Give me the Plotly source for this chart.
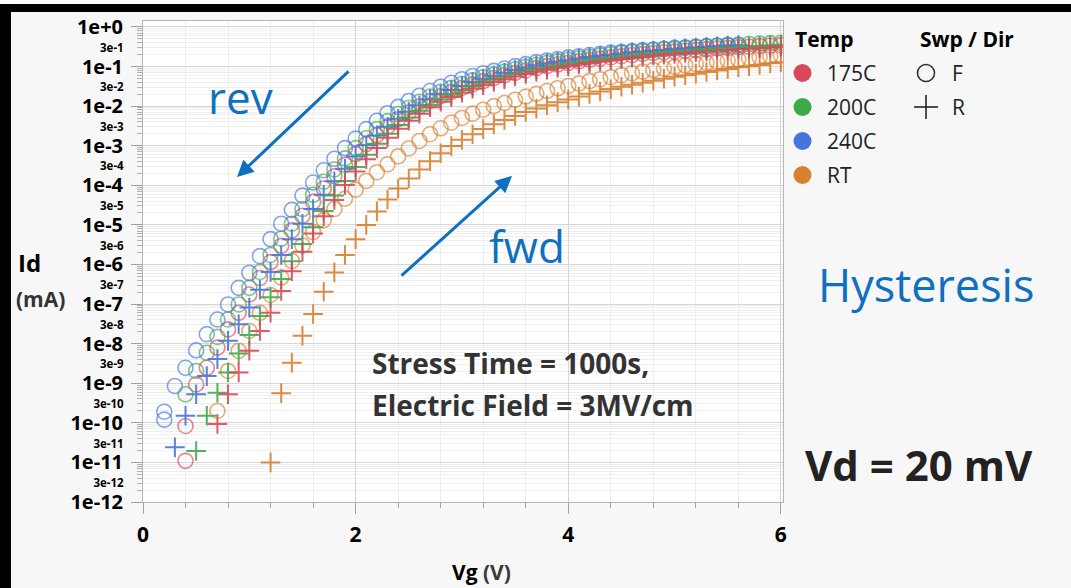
import plotly.graph_objects as go

# ---------------- data (log10 of Id in mA) ----------------
VG = [0.2, 0.3, 0.4, 0.5, 0.6, 0.7, 0.8, 0.9, 1.0, 1.1, 1.2, 1.3, 1.4, 1.5, 1.6, 1.7, 1.8, 1.9,
      2.0, 2.1, 2.2, 2.3, 2.4, 2.5, 2.6, 2.7, 2.8, 2.9, 3.0, 3.1, 3.2, 3.3, 3.4, 3.5, 3.6, 3.7,
      3.8, 3.9, 4.0, 4.1, 4.2, 4.3, 4.4, 4.5, 4.6, 4.7, 4.8, 4.9, 5.0, 5.1, 5.2, 5.3, 5.4, 5.5,
      5.6, 5.7, 5.8, 5.9, 6.0]

LOG_240C_F = [-9.72, -9.07, -8.61, -8.17, -7.76, -7.39, -7.01, -6.59, -6.21, -5.79, -5.36, -4.97,
              -4.62, -4.26, -3.93, -3.62, -3.33, -3.06, -2.82, -2.58, -2.37, -2.18, -2.02, -1.87,
              -1.74, -1.62, -1.51, -1.41, -1.32, -1.24, -1.17, -1.11, -1.05, -0.99, -0.94, -0.89,
              -0.85, -0.81, -0.77, -0.74, -0.71, -0.68, -0.65, -0.63, -0.61, -0.59, -0.57, -0.55,
              -0.53, -0.52, -0.50, -0.49, -0.47, -0.46, -0.45]
LOG_240C_R = [None, -10.62, -9.82, -9.28, -8.82, -8.39, -7.93, -7.51, -7.09, -6.64, -6.19, -5.76,
              -5.36, -4.97, -4.60, -4.24, -3.90, -3.58, -3.27, -2.99, -2.74, -2.52, -2.32, -2.14,
              -1.98, -1.83, -1.70, -1.59, -1.49, -1.39, -1.31, -1.23, -1.16, -1.09, -1.03, -0.97,
              -0.92, -0.88, -0.84, -0.80, -0.76, -0.73, -0.70, -0.67, -0.64, -0.62, -0.60, -0.58,
              -0.56, -0.54, -0.52, -0.50, -0.49, -0.47, -0.46]
LOG_200C_F = [None, None, -9.28, -8.69, -8.23, -7.83, -7.39, -7.01, -6.59, -6.19, -5.76, -5.35,
              -4.97, -4.60, -4.24, -3.91, -3.60, -3.32, -3.06, -2.81, -2.58, -2.38, -2.20, -2.04,
              -1.89, -1.76, -1.64, -1.54, -1.44, -1.35, -1.27, -1.20, -1.13, -1.07, -1.01, -0.96,
              -0.91, -0.87, -0.83, -0.79, -0.76, -0.72, -0.69, -0.66, -0.64, -0.61, -0.59, -0.57,
              -0.55, -0.53, -0.51, -0.49, -0.48, -0.46, -0.45, -0.43, -0.42, -0.41, -0.40]
LOG_200C_R = [None, None, None, -10.71, -9.82, -9.24, -8.73, -8.25, -7.78, -7.30, -6.83, -6.37,
              -5.92, -5.48, -5.06, -4.65, -4.26, -3.89, -3.54, -3.23, -2.95, -2.70, -2.48, -2.29,
              -2.12, -1.97, -1.83, -1.71, -1.60, -1.50, -1.41, -1.33, -1.26, -1.19, -1.13, -1.07,
              -1.02, -0.97, -0.93, -0.89, -0.85, -0.81, -0.78, -0.75, -0.72, -0.69, -0.67, -0.64,
              -0.62, -0.60, -0.58, -0.56, -0.54, -0.52, -0.51, -0.49, -0.48, -0.46, -0.45]
LOG_175C_F = [None, None, -10.08, -9.03, -8.61, -8.10, -7.64, -7.22, -6.76, -6.34, -5.94, -5.53,
              -5.14, -4.77, -4.42, -4.08, -3.77, -3.48, -3.21, -2.96, -2.73, -2.52, -2.33, -2.16,
              -2.01, -1.87, -1.75, -1.64, -1.54, -1.45, -1.37, -1.29, -1.22, -1.16, -1.10, -1.04,
              -0.99, -0.95, -0.91, -0.87, -0.83, -0.80, -0.77, -0.74, -0.71, -0.68, -0.66, -0.64,
              -0.62, -0.60, -0.58, -0.56, -0.54, -0.53, -0.51, -0.50, -0.48, -0.47, -0.46]
LOG_175C_R = [None, None, None, None, None, -10.03, -9.28, -8.73, -8.18, -7.68, -7.22, -6.67,
              -6.17, -5.68, -5.22, -4.78, -4.37, -3.99, -3.65, -3.34, -3.06, -2.80, -2.57, -2.37,
              -2.19, -2.03, -1.89, -1.77, -1.66, -1.56, -1.47, -1.39, -1.32, -1.25, -1.19, -1.13,
              -1.08, -1.03, -0.99, -0.95, -0.91, -0.87, -0.84, -0.81, -0.78, -0.75, -0.72, -0.70,
              -0.68, -0.66, -0.64, -0.62, -0.60, -0.58, -0.56, -0.55, -0.53, -0.52, -0.50]
LOG_RT_F = [None, None, None, None, None, -9.70, -8.69, -8.18, -7.68, -7.22, -6.77, -6.33,
            -5.91, -5.52, -5.18, -4.88, -4.60, -4.34, -4.11, -3.89, -3.67, -3.47, -3.27, -3.07,
            -2.88, -2.71, -2.56, -2.42, -2.30, -2.19, -2.09, -2.00, -1.92, -1.84, -1.76, -1.69,
            -1.62, -1.55, -1.49, -1.43, -1.37, -1.32, -1.27, -1.22, -1.17, -1.13, -1.09, -1.05,
            -1.01, -0.97, -0.94, -0.91, -0.88, -0.85, -0.82, -0.79, -0.76, -0.74, -0.71]
LOG_RT_R = [None, None, None, None, None, None, None, None, None, None, -11.00, -9.25,
            -8.48, -7.80, -7.25, -6.69, -6.20, -5.76, -5.36, -5.00, -4.66, -4.36, -4.08, -3.83,
            -3.60, -3.39, -3.19, -3.01, -2.85, -2.71, -2.58, -2.46, -2.35, -2.25, -2.15, -2.06,
            -1.98, -1.90, -1.83, -1.76, -1.69, -1.63, -1.57, -1.51, -1.46, -1.41, -1.36, -1.31,
            -1.26, -1.22, -1.18, -1.14, -1.10, -1.06, -1.02, -0.99, -0.96, -0.92, -0.89]

# repeated low-Vg readings (second point at same Vg)
EXTRA_240C_F_VG = [0.2]
EXTRA_240C_F_LOG = [-9.92]
EXTRA_175C_F_VG = [0.4]
EXTRA_175C_F_LOG = [-10.96]

TEMPS = ["175C", "200C", "240C", "RT"]
COLORS = {"175C": "#d8485a", "200C": "#3bab47", "240C": "#4574dd", "RT": "#d8802e"}

Y_MAJOR = [10.0 ** e for e in range(-12, 1)]
Y_MAJOR_TEXT = ["1e-12", "1e-11", "1e-10", "1e-9", "1e-8", "1e-7", "1e-6", "1e-5", "1e-4",
                "1e-3", "1e-2", "1e-1", "1e+0"]
Y_THREE = [3 * 10.0 ** e for e in range(-12, 0)]
Y_THREE_TEXT = ["3e-12", "3e-11", "3e-10", "3e-9", "3e-8", "3e-7", "3e-6", "3e-5", "3e-4",
                "3e-3", "3e-2", "3e-1"]
X_TICKS = [0, 2, 4, 6]
X_MINOR = [0.4, 0.8, 1.2, 1.6, 2.4, 2.8, 3.2, 3.6, 4.4, 4.8, 5.2, 5.6]


def to_id(vals):
    vals = list(vals) + [None] * (len(VG) - len(vals))
    return [None if v is None else 10.0 ** v for v in vals]


FONT = "Open Sans"
fig = go.Figure()


def add_series(temp, logs, swp, xs=None):
    col = COLORS[temp]
    if swp == "F":
        marker = dict(symbol="circle-open", size=15, color=col, opacity=0.65,
                      line=dict(width=1.6, color=col))
    else:
        marker = dict(symbol="cross-thin-open", size=14, color=col, opacity=0.9,
                      line=dict(width=2, color=col))
    fig.add_trace(go.Scatter(
        x=VG if xs is None else xs,
        y=to_id(logs) if xs is None else [10.0 ** v for v in logs],
        mode="markers", marker=marker, showlegend=False, cliponaxis=True,
        name=f"{temp} {swp}"))


add_series("RT", LOG_RT_F, "F")
add_series("RT", LOG_RT_R, "R")
add_series("175C", LOG_175C_F, "F")
add_series("175C", EXTRA_175C_F_LOG, "F", xs=EXTRA_175C_F_VG)
add_series("200C", LOG_200C_F, "F")
add_series("240C", LOG_240C_F, "F")
add_series("240C", EXTRA_240C_F_LOG, "F", xs=EXTRA_240C_F_VG)
add_series("240C", LOG_240C_R, "R")
add_series("200C", LOG_200C_R, "R")
add_series("175C", LOG_175C_R, "R")

# dummy trace on yaxis2 so the secondary label axis is drawn
fig.add_trace(go.Scatter(x=[None], y=[None], yaxis="y2", showlegend=False, hoverinfo="skip"))

# ---------------- layout helpers (pixel -> paper) ----------------
L, R, T, B = 143, 783, 21, 502
W, H = 1071, 588


def PX(x):
    return (x - L) / (R - L)


def PY(y):
    return (B - y) / (B - T)


y_minor = [k * 10.0 ** e for e in range(-12, 0) for k in range(2, 10)]

fig.update_layout(
    width=W, height=H,
    margin=dict(l=L, r=W - R, t=T, b=H - B, pad=0),
    paper_bgcolor="#f7f7f7", plot_bgcolor="#ffffff",
    font=dict(family=FONT, color="#000"),
    xaxis=dict(range=[0, 6.02], tickvals=X_TICKS, ticktext=[str(v) for v in X_TICKS],
               ticks="outside", ticklen=11, tickcolor="#a0a0a0", tickwidth=1,
               showline=True, linecolor="#b4b4b4", linewidth=1, mirror=True,
               showgrid=True, gridcolor="#d6d6d6", gridwidth=1, zeroline=False,
               tickfont=dict(family=FONT, size=21, color="#000", weight=700),
               ticklabelstandoff=3,
               minor=dict(tickvals=X_MINOR, ticks="outside", ticklen=5, tickcolor="#a0a0a0",
                          showgrid=True, gridcolor="#ededed", gridwidth=1)),
    yaxis=dict(type="log", range=[-12, 0.15], tickvals=Y_MAJOR, ticktext=Y_MAJOR_TEXT,
               ticks="outside", ticklen=11, tickcolor="#a0a0a0", tickwidth=1,
               showline=True, linecolor="#b4b4b4", linewidth=1, mirror=True,
               showgrid=True, gridcolor="#d6d6d6", gridwidth=1, zeroline=False,
               tickfont=dict(family=FONT, size=20, color="#000", weight=700),
               ticklabelstandoff=4,
               minor=dict(tickvals=y_minor, ticks="outside", ticklen=5, tickcolor="#b0b0b0",
                          showgrid=True, gridcolor="#efefef", gridwidth=1)),
    yaxis2=dict(type="log", range=[-12, 0.15], overlaying="y", side="left", anchor="x",
                tickvals=Y_THREE, ticktext=Y_THREE_TEXT, ticks="outside", ticklen=11,
                tickcolor="rgba(0,0,0,0)", showgrid=False, showline=False, zeroline=False,
                tickfont=dict(family=FONT, size=11.5, color="#000", weight=700),
                ticklabelstandoff=5),
)

shapes = []
# black frame (top and left) with thin white strip above
shapes.append(dict(type="rect", xref="paper", yref="paper", x0=PX(0), x1=PX(W), y0=PY(4), y1=PY(0),
                   fillcolor="#ffffff", line=dict(width=0), layer="above"))
shapes.append(dict(type="rect", xref="paper", yref="paper", x0=PX(0), x1=PX(W), y0=PY(12), y1=PY(4),
                   fillcolor="#000000", line=dict(width=0), layer="above"))
shapes.append(dict(type="rect", xref="paper", yref="paper", x0=PX(0), x1=PX(11), y0=PY(H), y1=PY(4),
                   fillcolor="#000000", line=dict(width=0), layer="above"))

annos = []


def text(x, y, s, size, color="#000", bold=False, xanchor="center", yanchor="middle"):
    annos.append(dict(x=PX(x), y=PY(y), xref="paper", yref="paper", text=s, showarrow=False,
                      xanchor=xanchor, yanchor=yanchor,
                      font=dict(family=FONT, size=size, color=color, weight=700 if bold else 400)))


# legend
text(793, 39, "Temp", 21, "#000", True, xanchor="left")
text(918, 39, "Swp / Dir", 21, "#000", True, xanchor="left")
legend_rows = [73, 107, 141, 175]
for temp, yy in zip(TEMPS, legend_rows):
    shapes.append(dict(type="circle", xref="paper", yref="paper",
                       x0=PX(793.5), x1=PX(811.5), y0=PY(yy + 9), y1=PY(yy - 9),
                       fillcolor=COLORS[temp], line=dict(width=0), layer="above"))
    text(825, yy, temp, 21, "#222", False, xanchor="left")
shapes.append(dict(type="circle", xref="paper", yref="paper",
                   x0=PX(917.5), x1=PX(934.5), y0=PY(73 + 8.5), y1=PY(73 - 8.5),
                   line=dict(width=1.6, color="#333"), layer="above"))
shapes.append(dict(type="line", xref="paper", yref="paper", x0=PX(914), x1=PX(938),
                   y0=PY(107), y1=PY(107), line=dict(width=1.6, color="#222"), layer="above"))
shapes.append(dict(type="line", xref="paper", yref="paper", x0=PX(926), x1=PX(926),
                   y0=PY(95), y1=PY(119), line=dict(width=1.6, color="#222"), layer="above"))
text(950, 73, "F", 21, "#222", False, xanchor="left")
text(950, 107, "R", 21, "#222", False, xanchor="left")

# axis titles
text(16, 262, "Id", 24, "#000", True, xanchor="left")
text(14, 299, "(mA)", 21, "#333", True, xanchor="left")
text(481, 572, "Vg <span style='color:#3a3a3a'>(V)</span>", 21, "#000", True)

# notes
BLUE = "#0f6fc0"
text(240, 97, "rev", 44, BLUE)
text(527, 246, "fwd", 44, BLUE)
text(926, 284, "Hysteresis", 45, BLUE)
text(919, 464, "Vd = 20 mV", 42, "#222", True)
text(370, 363, "Stress Time = 1000s,", 28, "#333", True, xanchor="left")
text(370, 405, "Electric Field = 3MV/cm", 28, "#333", True, xanchor="left")

# arrows
annos.append(dict(x=PX(237), y=PY(177), xref="paper", yref="paper", ax=113, ay=-107,
                  axref="pixel", ayref="pixel", showarrow=True, arrowhead=2, arrowsize=1.1,
                  arrowwidth=3, arrowcolor=BLUE, text=""))
annos.append(dict(x=PX(512), y=PY(176), xref="paper", yref="paper", ax=-112, ay=101,
                  axref="pixel", ayref="pixel", showarrow=True, arrowhead=2, arrowsize=1.1,
                  arrowwidth=3, arrowcolor=BLUE, text=""))

fig.update_layout(shapes=shapes, annotations=annos)
fig.write_html("out.html")
